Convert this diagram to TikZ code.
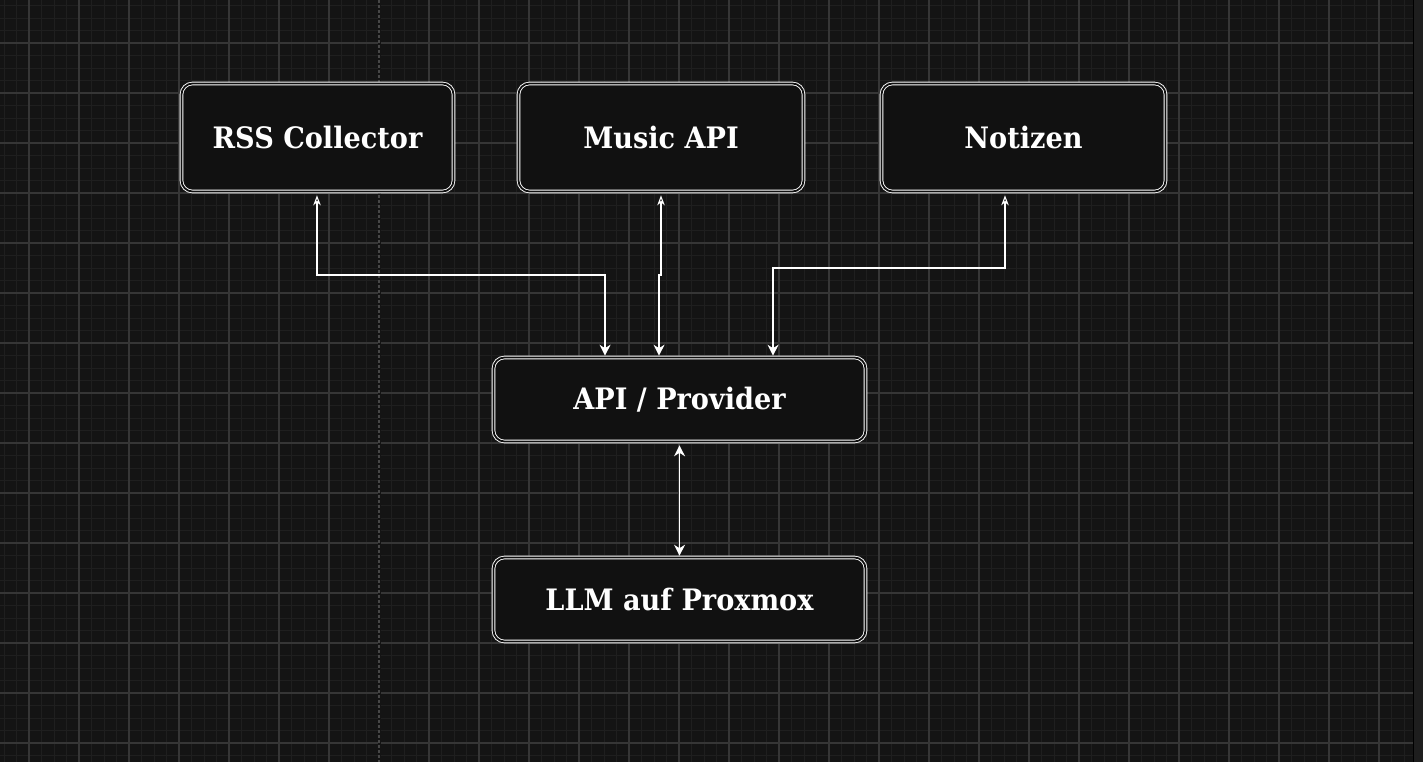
\documentclass[tikz,border=0pt]{standalone}
\usepackage{fontspec}
\setmainfont{DejaVu Serif}[FakeStretch=0.92]
\usetikzlibrary{arrows.meta,calc}
\definecolor{bg}{HTML}{141414}
\definecolor{minorgrid}{HTML}{1F1F1F}
\definecolor{majorgrid}{HTML}{363636}
\definecolor{pagebreak}{HTML}{474747}
\definecolor{boxfill}{HTML}{111111}
\definecolor{strip}{HTML}{1E1E1E}
\tikzset{
  box/.style={draw=white, line width=0.9pt, double=boxfill, double distance=1.8pt,
    fill=boxfill, rounded corners=11pt, text=white, font=\fontsize{29.5}{32}\selectfont\bfseries,
    inner sep=0pt, outer sep=1.8pt, anchor=center},
  link/.style={draw=white, line width=1.1pt},
  opentip/.style={{Stealth[open,length=10pt,width=7.5pt,inset=3pt]}-{Stealth[length=11pt,width=11pt,inset=3.5pt]}},
  bothtip/.style={{Stealth[length=11pt,width=11pt,inset=3.5pt]}-{Stealth[length=11pt,width=11pt,inset=3.5pt]}}
}
\begin{document}
\begin{tikzpicture}[x=1pt,y=-1pt]
\useasboundingbox (0,0) rectangle (1423,762);
\fill[bg] (0,0) rectangle (1423,762);
% minor grid
\foreach \x in {4,16.5,...,1413} \draw[minorgrid,line width=0.8pt] (\x,0) -- (\x,762);
\foreach \y in {5.5,18,...,762} \draw[minorgrid,line width=0.8pt] (0,\y) -- (1413,\y);
% major grid
\foreach \x in {29,79,...,1413} \draw[majorgrid,line width=1.2pt] (\x,0) -- (\x,762);
\foreach \y in {43,93,...,762} \draw[majorgrid,line width=1.2pt] (0,\y) -- (1413,\y);
% page break line
\fill[bg] (377.5,0) rectangle (380.5,762);
\draw[pagebreak,line width=1.4pt,dash pattern=on 3pt off 2pt] (379,0) -- (379,762);
% right strip
\fill[strip] (1413,0) rectangle (1423,762);
\draw[black,line width=1pt] (1413.5,0) -- (1413.5,762);

% nodes
\node[box, minimum width=272pt, minimum height=108pt] (rss) at (317.5,137.5) {RSS Collector};
\node[box, minimum width=285pt, minimum height=108pt] (music) at (661,137.5) {Music API};
\node[box, minimum width=284pt, minimum height=108pt] (notizen) at (1023.5,137.5) {Notizen};
\node[box, minimum width=372pt, minimum height=84pt] (api) at (679.5,399.5) {API / Provider};
\node[box, minimum width=372pt, minimum height=84pt] (llm) at (679.5,599.5) {LLM auf Proxmox};

% connectors
\draw[link,opentip] ([yshift=-2pt]rss.south -| 317,0) |- (605,275) -- (605,0 |- api.north);
\draw[link,opentip] ([yshift=-2pt]music.south) -- (661,275) -- (659,275) -- (659,0 |- api.north);
\draw[link,opentip] ([yshift=-2pt]notizen.south -| 1005,0) |- (773,268) -- (773,0 |- api.north);
\draw[link,bothtip] ([yshift=-2pt]api.south) -- (llm.north);
\end{tikzpicture}
\end{document}
